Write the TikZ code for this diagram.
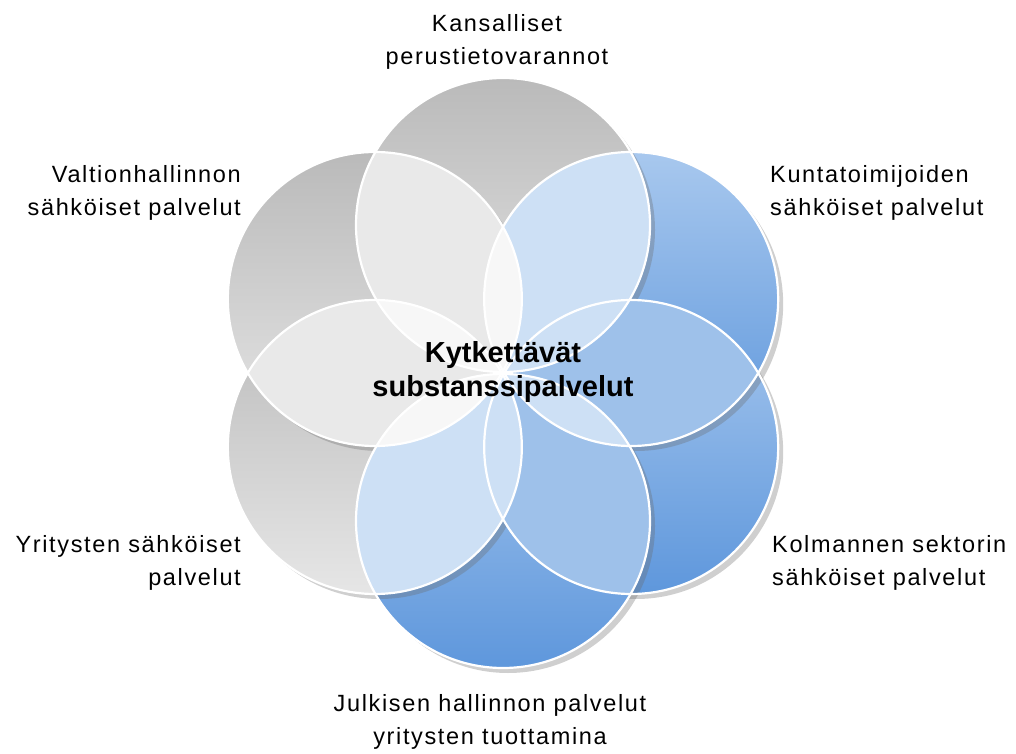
\documentclass[tikz,border=0pt]{standalone}
\usepackage{fontspec}
\setmainfont{Liberation Sans}[LetterSpace=7]
\newfontfamily\hubfont{Liberation Sans}
\usepackage{tikz}
\usetikzlibrary{calc}
\tikzset{>=latex}
\definecolor{petalgrayA}{HTML}{BABABA}
\definecolor{petalgrayB}{HTML}{E6E6E6}
\definecolor{petalblueA}{HTML}{A8C8EE}
\definecolor{petalblueB}{HTML}{5E97DC}
\definecolor{mixgg}{HTML}{E9E9E9}
\definecolor{mixgb}{HTML}{CDE0F5}
\definecolor{mixbb}{HTML}{9EC1EA}
\definecolor{mixpale}{HTML}{F7F7F7}
\definecolor{petaldrop}{HTML}{6A6A6A}
\tikzset{
  petal gray/.style={top color=petalgrayA, bottom color=petalgrayB},
  petal blue/.style={top color=petalblueA, bottom color=petalblueB},
  petal drop/.style={fill=petaldrop, fill opacity=0.32},
  petal rim/.style={draw=white, line width=2.2pt},
  petaltext/.style={font=\fontsize{23.5}{33}\selectfont, inner sep=0pt},
  hubtext/.style={font=\hubfont\bfseries\fontsize{29}{34}\selectfont, inner sep=0pt, align=center},
}

\begin{document}
\begin{tikzpicture}[x=1pt,y=1pt]
  \useasboundingbox (0,0) rectangle (1016,753);
  \coordinate (hub) at (503,380);
  % petals, lowest first
  \foreach \nm/\ang/\tone in {lr/-30/blue, ur/30/blue, tp/90/gray, bt/-90/blue, ll/-150/gray, ul/150/gray} {
    \coordinate (\nm) at ($(hub)+(\ang:148)$);
    \fill[petal drop] ($(\nm)+(5,-5)$) circle (147);
    \shade[petal \tone] (\nm) circle (147);
  }
  % two-way overlaps
  \foreach \a/\b/\mix in {tp/ur/mixgb, ur/lr/mixbb, lr/bt/mixbb, bt/ll/mixgb, ll/ul/mixgg, ul/tp/mixgg} {
    \begin{scope}
      \clip (\a) circle (147);
      \fill[\mix] (\b) circle (147);
    \end{scope}
  }
  % three-way lenses
  \foreach \a/\b/\mix in {ul/ur/mixpale, tp/lr/mixgb, ur/bt/mixgb, lr/ll/mixgb, bt/ul/mixpale, ll/tp/mixpale} {
    \begin{scope}
      \clip (\a) circle (147);
      \fill[\mix] (\b) circle (147);
    \end{scope}
  }
  \foreach \nm in {lr,ur,tp,bt,ll,ul}
    \draw[petal rim] (\nm) circle (147);

  \node[petaltext, anchor=north, align=center] (kansalliset) at (497,738.5) {Kansalliset\\perustietovarannot};
  \node[petaltext, anchor=north east, align=right] (valtio) at (241,588) {Valtionhallinnon\\sähköiset palvelut};
  \node[petaltext, anchor=north west, align=left] (kunta) at (770,588) {Kuntatoimijoiden\\sähköiset palvelut};
  \node[petaltext, anchor=north east, align=right] (yritys) at (241,218) {Yritysten sähköiset\\palvelut};
  \node[petaltext, anchor=north west, align=left] (kolmas) at (772,218) {Kolmannen sektorin\\sähköiset palvelut};
  \node[petaltext, anchor=north, align=center] (julkinen) at (490,58.5) {Julkisen hallinnon palvelut\\yritysten tuottamina};
  \node[hubtext, anchor=north] (hubname) at (503,412) {Kytkettävät\\substanssipalvelut};
\end{tikzpicture}
\end{document}
